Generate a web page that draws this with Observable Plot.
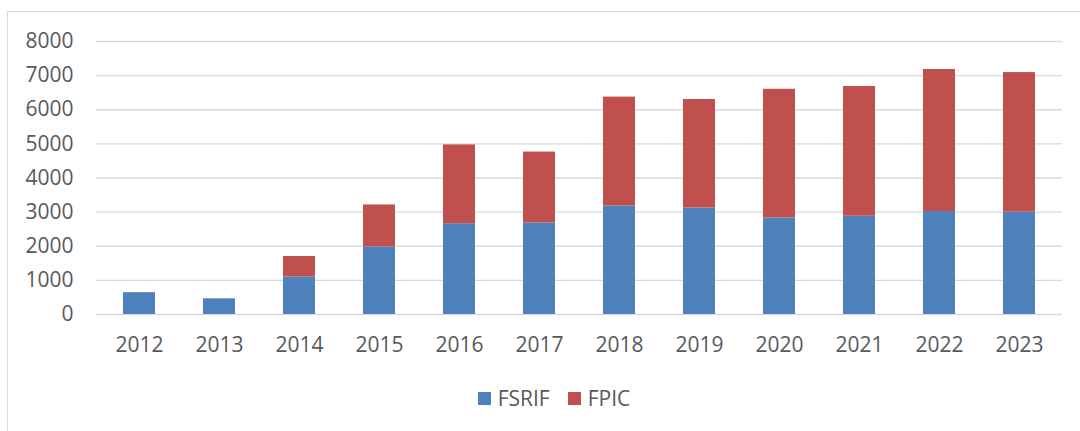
<!DOCTYPE html>
<html>
<head>
<meta charset="utf-8">
<script src="https://cdn.jsdelivr.net/npm/d3@7"></script>
<script src="https://cdn.jsdelivr.net/npm/@observablehq/plot@0.6"></script>
<style>
  html, body { margin: 0; padding: 0; background: #fff; overflow: hidden; }
  body { width: 1080px; height: 431px; position: relative; font-family: "Open Sans", sans-serif; }
  #frame { position: absolute; left: 7px; top: 11px; width: 1200px; height: 600px;
           border-top: 1px solid #d9d9d9; border-left: 1.5px solid #d9d9d9; }
  #chart { position: absolute; left: 0; top: 0; }
  #legend { position: absolute; left: 0; top: 384px; width: 1108px; display: flex; justify-content: center;
            gap: 18px; font-size: 21px; color: #595959; }
  .item { display: flex; align-items: center; gap: 7px; }
  .sw { width: 13px; height: 13px; display: inline-block; }
</style>
</head>
<body>
<div id="frame"></div>
<div id="chart"></div>
<div id="legend"></div>
<script>
const years = ["2012","2013","2014","2015","2016","2017","2018","2019","2020","2021","2022","2023"];
const fsrif = [640, 460, 1100, 1980, 2660, 2680, 3180, 3120, 2830, 2880, 3020, 3000];
const fpic  = [0, 0, 600, 1230, 2310, 2080, 3190, 3180, 3770, 3800, 4160, 4090];
const seriesNames = ["FSRIF", "FPIC"];
const seriesColors = ["#4F81BD", "#C0504D"];
const yTicks = [0, 1000, 2000, 3000, 4000, 5000, 6000, 7000, 8000];

const rows = [];
years.forEach((y, i) => {
  rows.push({year: y, series: "FSRIF", value: fsrif[i]});
  rows.push({year: y, series: "FPIC", value: fpic[i]});
});

const chart = Plot.plot({
  width: 1080,
  height: 364,
  marginLeft: 96,
  marginRight: 18,
  marginTop: 41,
  marginBottom: 50,
  style: {fontFamily: "'Open Sans', sans-serif", fontSize: "21px", color: "#595959", background: "transparent"},
  x: {domain: years, paddingInner: 0.6, paddingOuter: 0.28, align: 0.5, label: null},
  y: {domain: [0, 8000], label: null},
  color: {domain: seriesNames, range: seriesColors},
  marks: [
    Plot.gridY(yTicks, {stroke: "#d9d9d9", strokeOpacity: 1, strokeWidth: 1.3}),
    Plot.barY(rows, Plot.stackY({x: "year", y: "value", fill: "series", order: seriesNames})),
    Plot.axisX({tickSize: 0, tickPadding: 23, fontSize: 21}),
    Plot.axisY(yTicks, {tickSize: 0, tickPadding: 23, fontSize: 21, tickFormat: d => String(d)})
  ]
});
document.getElementById("chart").appendChild(chart);

const leg = document.getElementById("legend");
seriesNames.forEach((n, i) => {
  const it = document.createElement("div");
  it.className = "item";
  const sw = document.createElement("span");
  sw.className = "sw";
  sw.style.background = seriesColors[i];
  const t = document.createElement("span");
  t.textContent = n;
  it.appendChild(sw); it.appendChild(t);
  leg.appendChild(it);
});
</script>
</body>
</html>
